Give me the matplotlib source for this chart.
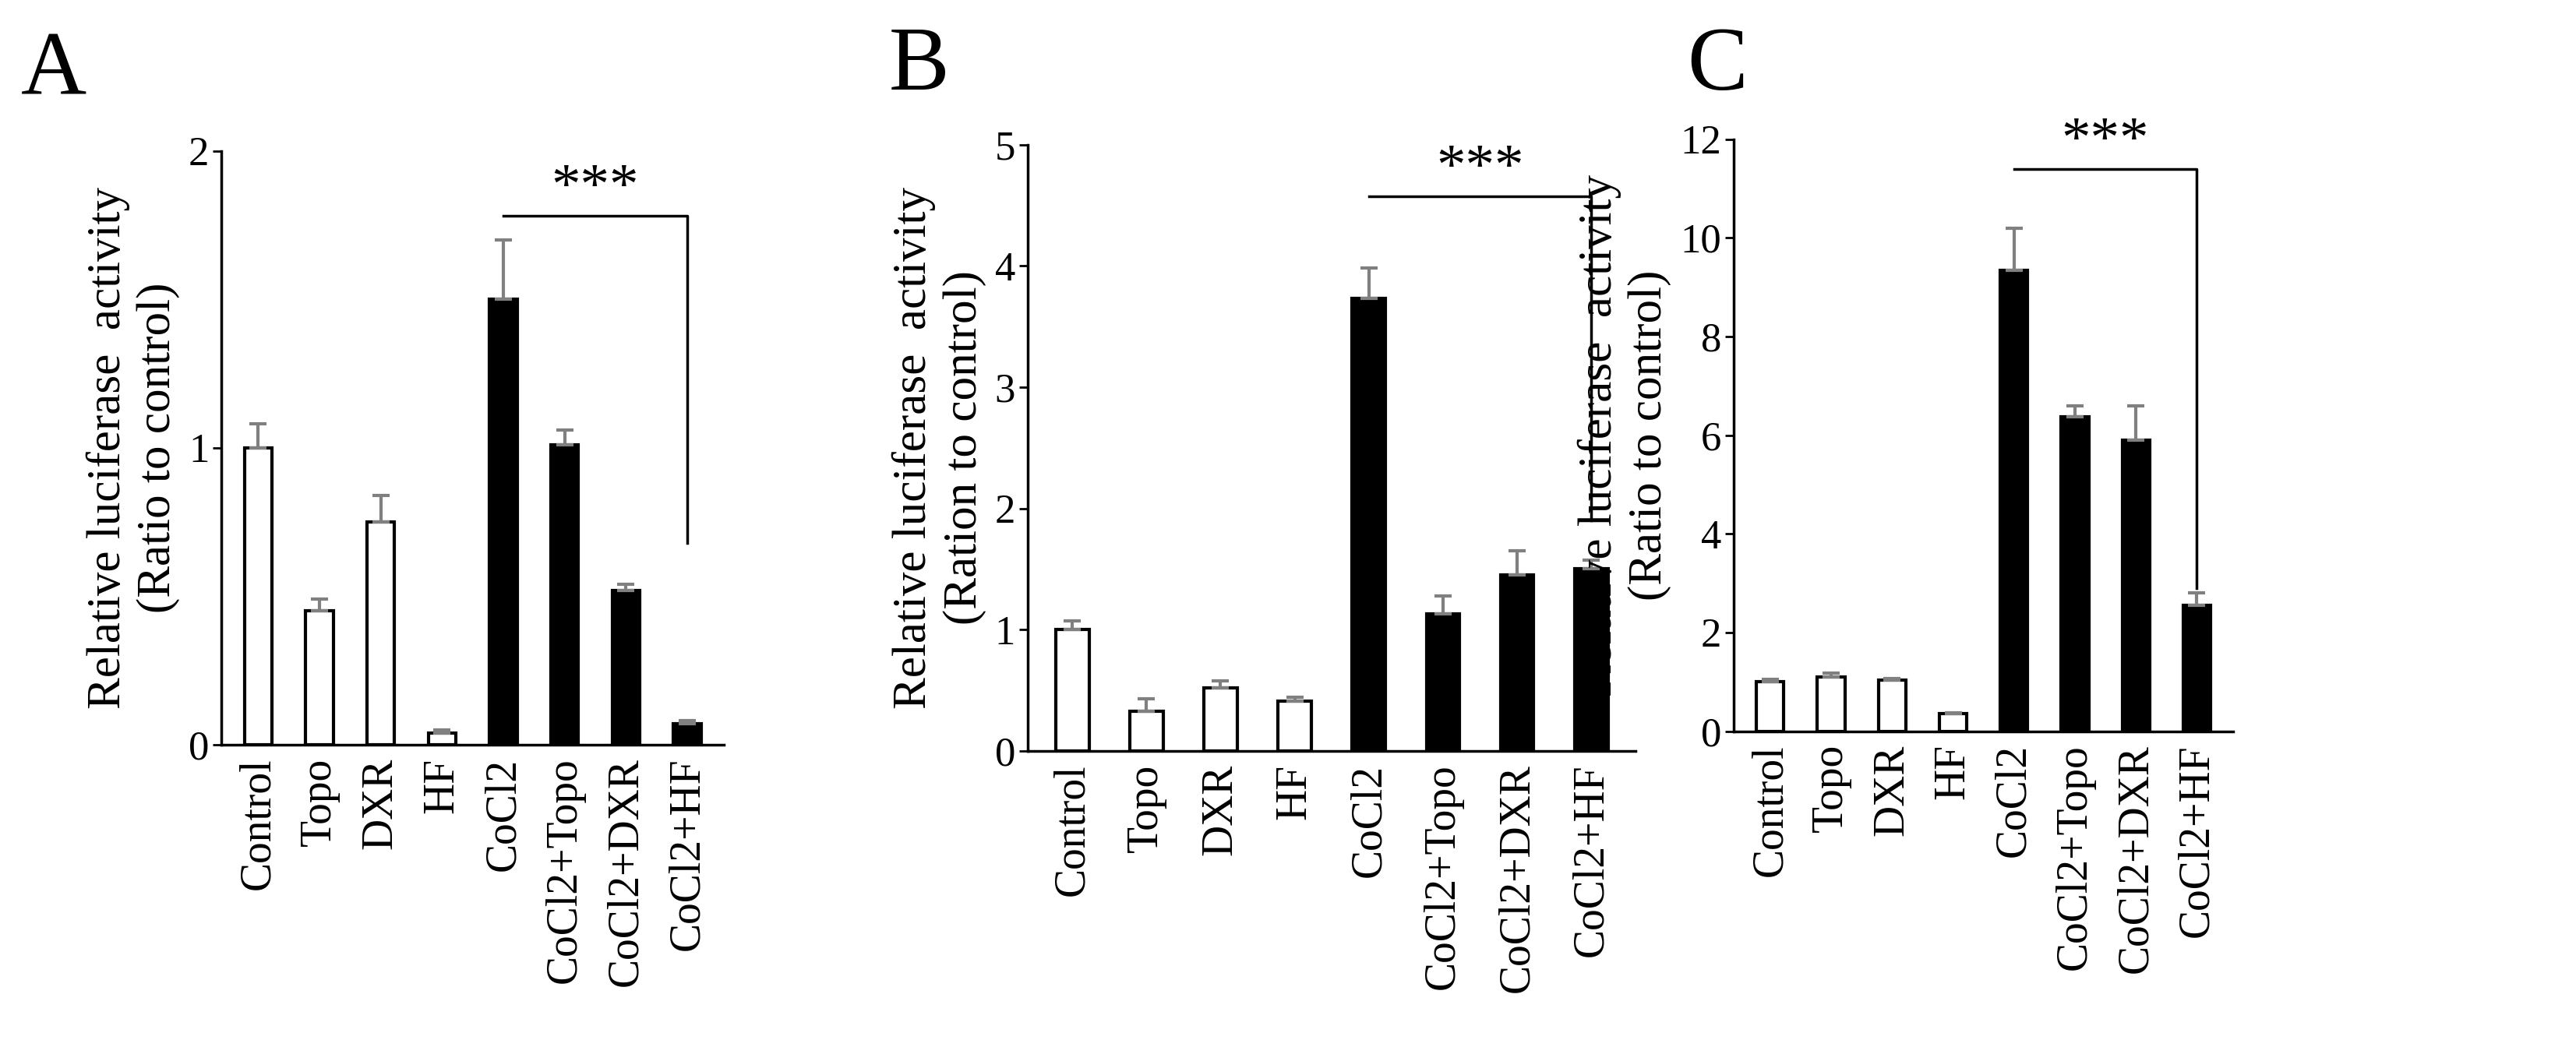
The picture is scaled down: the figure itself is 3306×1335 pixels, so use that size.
import matplotlib.pyplot as plt

plt.rcParams['font.family'] = ['Liberation Serif', 'DejaVu Serif']

cats = ['Control', 'Topo', 'DXR', 'HF', 'CoCl2', 'CoCl2+Topo', 'CoCl2+DXR', 'CoCl2+HF']
fills = ['white'] * 4 + ['black'] * 4

a_vals = [1.0, 0.45, 0.75, 0.04, 1.5, 1.01, 0.52, 0.07]
a_err = [0.08, 0.04, 0.09, 0.01, 0.2, 0.05, 0.02, 0.01]
b_vals = [1.0, 0.33, 0.52, 0.41, 3.73, 1.13, 1.45, 1.5]
b_err = [0.07, 0.1, 0.06, 0.03, 0.25, 0.15, 0.2, 0.07]
c_vals = [1.0, 1.1, 1.03, 0.35, 9.35, 6.38, 5.9, 2.55]
c_err = [0.05, 0.07, 0.04, 0.02, 0.85, 0.22, 0.7, 0.25]

panels = [
    ('A', a_vals, a_err, [0.086, 0.284, 0.195, 0.571], 2, [0, 1, 2], 1.78, 0.68,
     'Relative luciferase  activity\n(Ratio to control)', (0.008, 0.89)),
    ('B', b_vals, b_err, [0.399, 0.278, 0.236, 0.583], 5, [0, 1, 2, 3, 4, 5], 4.57, 1.9,
     'Relative luciferase  activity\n(Ration to control)', (0.345, 0.895)),
    ('C', c_vals, c_err, [0.673, 0.297, 0.194, 0.569], 12, [0, 2, 4, 6, 8, 10, 12], 11.4, 2.9,
     'Relative luciferase  activity\n(Ratio to control)', (0.655, 0.895)),
]

fig = plt.figure(figsize=(33.06, 13.35), dpi=100)
for letter, vals, err, rect, ymax, ticks, by, bend, ylab, lpos in panels:
    ax = fig.add_axes(rect)
    x = range(len(cats))
    ax.bar(x, vals, width=0.45, color=fills, edgecolor='black', linewidth=3)
    ax.errorbar(x, vals, yerr=[[0] * len(err), err], fmt='none', ecolor='#808080',
                elinewidth=3, capsize=8, capthick=3)
    ax.plot([4, 7, 7], [by, by, bend], color='black', linewidth=2.5)
    ax.text(5.5, by, '***', ha='center', va='bottom', fontsize=54)
    ax.set_xlim(-0.6, 7.6)
    ax.set_ylim(0, ymax)
    ax.set_yticks(ticks)
    ax.set_xticks(list(x))
    ax.set_xticklabels(cats, rotation=90, fontsize=40)
    ax.tick_params(axis='y', labelsize=38, length=8, width=2)
    ax.tick_params(axis='x', length=0, pad=12)
    ax.spines['top'].set_visible(False)
    ax.spines['right'].set_visible(False)
    ax.spines['left'].set_linewidth(2.5)
    ax.spines['bottom'].set_linewidth(2.5)
    ax.set_ylabel(ylab, fontsize=44, labelpad=8)
    fig.text(lpos[0], lpos[1], letter, fontsize=84, va='bottom')

fig.savefig('out.png')
